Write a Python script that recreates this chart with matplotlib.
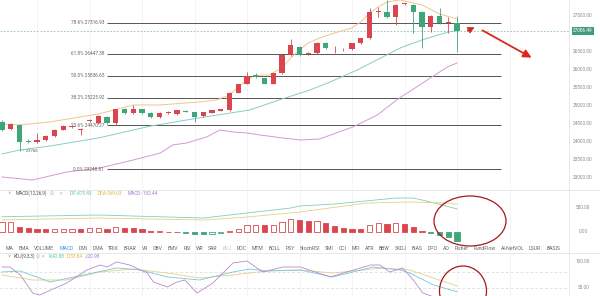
import matplotlib
matplotlib.use("Agg")
import matplotlib.pyplot as plt
import matplotlib.transforms as mtransforms
from matplotlib.patches import Ellipse, FancyArrowPatch

plt.rcParams["font.family"] = ["Roboto", "DejaVu Sans"]

# ── candles (red = up, green = down) ─────────────
opens = [24564, 24353, 24472, 24010, 23992, 24056, 24167, 24333, 24420, 24330,
         24590, 24528, 24694, 24528, 24917, 24806, 24917, 24806, 24694, 24800,
         24778, 24869, 24825, 24722, 24814, 24869, 24889, 25369, 25611, 25861,
         25769, 25611, 25908, 26417, 26647, 26436, 26464, 26758, 26570, 26570,
         26575, 26742, 26881, 27610, 27619, 27481, 27825, 27806, 27619, 27203,
         27500, 27305, 27314]
highs = [24600, 24520, 24490, 24083, 24258, 24190, 24350, 24470, 24460, 24389,
         24639, 24740, 24710, 24930, 24940, 25028, 24930, 24820, 24830, 24850,
         24900, 24880, 24840, 24840, 24900, 24920, 25390, 25620, 25953, 25925,
         25790, 25930, 26440, 26861, 26670, 26500, 26780, 26780, 26667, 26620,
         26760, 26900, 27714, 27758, 27944, 27830, 27870, 27830, 27640, 27520,
         27714, 27481, 27500]
lows = [24300, 24330, 23760, 23972, 23980, 24040, 24150, 24320, 24400, 24194,
        24556, 24510, 24510, 24472, 24790, 24790, 24790, 24680, 24680, 24780,
        24760, 24820, 24564, 24700, 24800, 24860, 24870, 25350, 25600, 25780,
        25600, 25600, 25890, 26400, 26400, 26420, 26450, 26590, 26481, 26540,
        26560, 26730, 26860, 27481, 27440, 27250, 27800, 27019, 26603, 27064,
        27280, 27019, 26508]
closes = [24333, 24492, 24008, 24000, 24056, 24167, 24333, 24444, 24430, 24340,
          24600, 24722, 24528, 24917, 24806, 24917, 24806, 24694, 24806, 24810,
          24889, 24833, 24703, 24825, 24889, 24908, 25369, 25603, 25833, 25797,
          25611, 25908, 26417, 26694, 26417, 26481, 26758, 26603, 26580, 26580,
          26742, 26881, 27619, 27625, 27464, 27806, 27840, 27619, 27203, 27500,
          27297, 27320, 27086.49]
last_price = 27086.49
low_mark = 23760

# moving averages (candle index, price)
ma_fast_idx = [0, 2, 5.5, 11, 15, 18, 22.5, 24.5, 26, 27, 28.3, 29.5, 30.5, 32, 33, 34,
               35, 36.3, 38, 40, 41, 42, 43, 44, 45.5, 48, 50, 52]
ma_fast_val = [24500, 24472, 24556, 24778, 25028, 25028, 25111, 25167, 25306, 25528,
               25778, 25861, 25861, 26056, 26333, 26556, 26750, 26889, 27028, 27167,
               27333, 27583, 27750, 27889, 27944, 27806, 27556, 27417]
ma_mid_idx = [0, 2, 5.5, 11, 17, 22.5, 28.3, 32, 35.2, 37.5, 40.6, 43.5, 45.5, 48, 51, 52]
ma_mid_val = [23667, 23778, 23889, 24111, 24444, 24667, 24889, 25194, 25444, 25667,
              26000, 26361, 26611, 26833, 27056, 27083]
ma_slow_idx = [0, 3.5, 7.4, 11.2, 15, 18.1, 19.5, 21.1, 23.4, 24.9, 26.4, 28, 29.5,
               32.1, 34.1, 36.3, 40.1, 42.9, 45.1, 48.6, 50.9, 52]
ma_slow_val = [23028, 22944, 23167, 23278, 23500, 23694, 23917, 23972, 24139, 24333,
               24278, 24250, 24194, 24111, 24056, 24083, 24417, 24750, 25167, 25722,
               26083, 26194]

fib_names = ["78.6%", "61.8%", "50.0%", "38.2%", "23.6%", "0.0%"]
fib_prices = [27316.93, 26447.38, 25836.65, 25225.92, 24470.27, 23248.81]
# 27000 sits under the last-price tag, so it is not listed
price_ticks = [23000, 23500, 24000, 24500, 25000, 25500, 26000, 26500, 27500]

# ── MACD ─────────────────────────────────────────
macd_hist = [208, 208, 104, 83, 49, 47, 56, 56, 56, 49, 69, 69, 56, 97, 83, 69, 56, 14,
             14, 3, 3, -28, -49, -50, -40, -20, 10, 56, 139, 139, 132, 139, 208, 257,
             243, 229, 232, 174, 125, 83, 62, 60, 139, 174, 153, 174, 160, 104, 14,
             -35, -69, -118, -192.44]
dif_idx = [0, 11, 23, 28, 33, 34, 38, 45, 47, 49, 52]
dif_val = [312, 348, 285, 390, 494, 535, 577, 702, 702, 619, 473.43]
dea_idx = [0, 11, 23, 28, 34, 41.7, 46.6, 50.9, 52]
dea_val = [244, 285, 244, 306, 410, 598, 619, 598, 569.63]
macd_ticks = [0, 500]

# ── KDJ ──────────────────────────────────────────
k_idx = [0, 2.1, 5.5, 9.3, 13.1, 15.8, 18.9, 22.6, 26.4, 28.3, 30.3, 34.1, 37.8, 42.4,
         45.5, 46.6, 49.3, 52]
k_val = [80.8, 82.7, 61.5, 75, 88.5, 84.6, 71.2, 65.4, 80.8, 86.5, 82.7, 84.6, 71.2,
         90.4, 84.6, 78.8, 55.8, 42.88]
d_idx = [0, 3.5, 7.4, 11.2, 15, 18.9, 22.6, 26.4, 30.3, 34.1, 37.8, 43.5, 46.6, 49.3, 52]
d_val = [75, 65.4, 65.4, 80.8, 86.5, 78.8, 69.2, 75, 82.7, 84.6, 78.8, 88.5, 84.6,
         69.2, 53.84]
j_idx = [0, 0.9, 2.1, 3.5, 4.3, 7.4, 9.7, 11.2, 12, 13.1, 14.6, 16.6, 17.3, 18.9, 20,
         20.9, 22.3, 24.1, 26.4, 28, 29.8, 32.1, 34.1, 37.5, 42.1, 43.2, 44.3, 45.8, 47,
         48.1, 49.7, 52]
j_val = [90.4, 90.4, 75, 40.4, 36.5, 59.6, 84.6, 94.2, 90.4, 100, 94.2, 78.8, 61.5,
         51.9, 61.5, 65.4, 40.4, 59.6, 98.1, 101.9, 80.8, 90.4, 90.4, 71.2, 94.2, 94.2,
         80.8, 88.5, 65.4, 40.4, 30.8, 20.98]
kdj_ticks = [50, 100]
kdj_guides = [20, 50, 80]

tabs = ["MA", "EMA", "VOLUME", "MACD", "DMI", "DMA", "TRIX", "BRAR", "VR", "OBV", "EMV",
        "RSI", "WR", "SAR", "KDJ", "ROC", "MTM", "BOLL", "PSY", "StochRSI", "SMI", "CCI",
        "MFI", "ATR", "BBW", "SKDJ", "BIAS", "DPO", "AO", "Fisher", "FundFlow",
        "AI-NetVOL", "LSUR", "BASIS"]

RED, GREEN = "#d9464f", "#3fa57b"
GRID = "#efefef"
W, H = 600, 296
AXIS_X = 569      # pixel column of the price-scale border

fig = plt.figure(figsize=(W / 100, H / 100), dpi=100)
fig.patch.set_facecolor("white")


def add_panel(top, bottom):
    ax = fig.add_axes([0, 1 - bottom / H, AXIS_X / W, (bottom - top) / H])
    ax.set_xlim(-2 / 8.75, (AXIS_X - 2) / 8.75)
    ax.axis("off")
    for gx in range(4, 60, 6):
        ax.axvline(gx, color=GRID, lw=0.5, zorder=0)
    return ax


def right_labels(ax, ticks, fmt="{:.2f}"):
    tr = mtransforms.blended_transform_factory(ax.transAxes, ax.transData)
    for v in ticks:
        ax.text(583 / AXIS_X, v, fmt.format(v), transform=tr, ha="center", va="center",
                fontsize=3.4, color="#8a8a8a", clip_on=False)


x = list(range(len(opens)))

# ── price panel ──────────────────────────────────
ax = add_panel(0, 188)
ax.set_ylim(22722, 27944)

ax.plot(ma_slow_idx, ma_slow_val, color="#d39bd0", lw=0.7, zorder=2)
ax.plot(ma_mid_idx, ma_mid_val, color="#86cfc1", lw=0.7, zorder=2)
ax.plot(ma_fast_idx, ma_fast_val, color="#f0c58e", lw=0.7, zorder=2)

cols = [RED if c >= o else GREEN for o, c in zip(opens, closes)]
ax.vlines(x, lows, highs, colors=cols, lw=0.6, zorder=3)
bottoms = [min(o, c) for o, c in zip(opens, closes)]
heights = [max(abs(c - o), 25) for o, c in zip(opens, closes)]
ax.bar(x, heights, bottom=bottoms, width=0.62, color=cols, lw=0, zorder=4)

ax.hlines(fib_prices, 12, 57, color="#555555", lw=0.7, zorder=1)
for name, p in zip(fib_names, fib_prices):
    ax.text(11.65, p, f"{name} {p:.2f}", ha="right", va="center", fontsize=3.4,
            color="#666666")

ax.axhline(last_price, color="#8fbfae", lw=0.6, ls=(0, (2, 2)), zorder=1)
ax.text(2.3, low_mark, "– 23760", ha="left", va="center", fontsize=3, color="#555555")

right_labels(ax, price_ticks)
tr = mtransforms.blended_transform_factory(ax.transAxes, ax.transData)
ax.text(583 / AXIS_X, last_price, f"{last_price:.2f}", transform=tr, ha="center",
        va="center", fontsize=3.4, color="white", clip_on=False, zorder=6,
        bbox=dict(boxstyle="square,pad=0.35", fc="#3f9e7a", ec="none"))

# ── MACD panel ───────────────────────────────────
axm = add_panel(190, 252)
axm.set_ylim(-423, 869)
axm.plot(dif_idx, dif_val, color="#86cdb9", lw=0.6)
axm.plot(dea_idx, dea_val, color="#e6cf86", lw=0.6)
for i, v in enumerate(macd_hist):
    c = RED if v >= 0 else GREEN
    hollow = i == 0 or v >= macd_hist[i - 1]
    axm.bar(i, v, width=0.62, facecolor="white" if hollow else c, edgecolor=c, lw=0.6,
            zorder=3)
right_labels(axm, macd_ticks)

# ── KDJ panel ────────────────────────────────────
axk = add_panel(253, 296)
axk.set_ylim(34.6, 117.3)
for g in kdj_guides:
    axk.axhline(g, color="#d8d8d8", lw=0.5, ls=(0, (4, 3)), zorder=0)
axk.plot(d_idx, d_val, color="#e6cf86", lw=0.6)
axk.plot(k_idx, k_val, color="#7cc6d6", lw=0.6)
axk.plot(j_idx, j_val, color="#b78ad3", lw=0.6)
right_labels(axk, kdj_ticks)

# ── overlay in pixel coordinates ─────────────────
ov = fig.add_axes([0, 0, 1, 1])
ov.set_xlim(0, W)
ov.set_ylim(H, 0)
ov.axis("off")
ov.set_zorder(10)

ov.plot([AXIS_X, AXIS_X], [0, H], color="#e4e4e4", lw=0.6)
ov.plot([0, W], [189.5, 189.5], color="#e4e4e4", lw=0.6)
ov.plot([0, W], [252.5, 252.5], color="#e4e4e4", lw=0.6)


def header(y, parts):
    ov.text(9, y, "∨", ha="center", va="center", fontsize=3.2, color="#888888",
            family="DejaVu Sans")
    for px, s, c in parts:
        ov.text(px, y, s, ha="left", va="center", fontsize=3.4, color=c)


header(193.5, [(16, "MACD(12,26,9)", "#555555"), (50, "⊙", "#aaaaaa"),
               (60, "×", "#aaaaaa"), (70, "DIF:473.43", "#5fc2b3"),
               (98, "DEA:569.63", "#e0b94a"), (128, "MACD:-192.44", "#a77fd0")])
header(256, [(14, "KDJ(9,3,3)", "#555555"), (36, "⊙", "#aaaaaa"), (42, "×", "#aaaaaa"),
             (49, "K:42.88", "#5fc2b3"), (67, "D:53.84", "#e0b94a"),
             (85, "J:20.98", "#a77fd0")])

renderer = fig.canvas.get_renderer()
tab_texts = []
for t in tabs:
    col = "#4a8fe0" if t == "MACD" else ("#c4c4c4" if t == "KDJ" else "#666666")
    tab_texts.append(ov.text(0, 248, t, ha="left", va="center", fontsize=3.7, color=col))
widths = [tt.get_window_extent(renderer).width for tt in tab_texts]
gap = (560 - 6 - sum(widths)) / (len(tabs) - 1)
cx = 6
for tt, w in zip(tab_texts, widths):
    tt.set_x(cx)
    cx += w + gap

# red markup
for (cx_, cy_, ew, eh) in [(470, 221, 72, 50), (463, 291, 47, 50)]:
    ov.add_patch(Ellipse((cx_, cy_), ew, eh, fc="none", ec="#a3191c", lw=0.9))
ov.add_patch(FancyArrowPatch((480, 29), (534, 59), arrowstyle="-|>,head_length=4,head_width=2",
                             color="#d8281e", lw=1.3, mutation_scale=1.2))
ov.add_patch(FancyArrowPatch((465, 32), (477, 26), arrowstyle="-|>,head_length=3,head_width=1.6",
                             color="#d8281e", lw=1.0, mutation_scale=1.2))

fig.savefig("out.png", dpi=100)
